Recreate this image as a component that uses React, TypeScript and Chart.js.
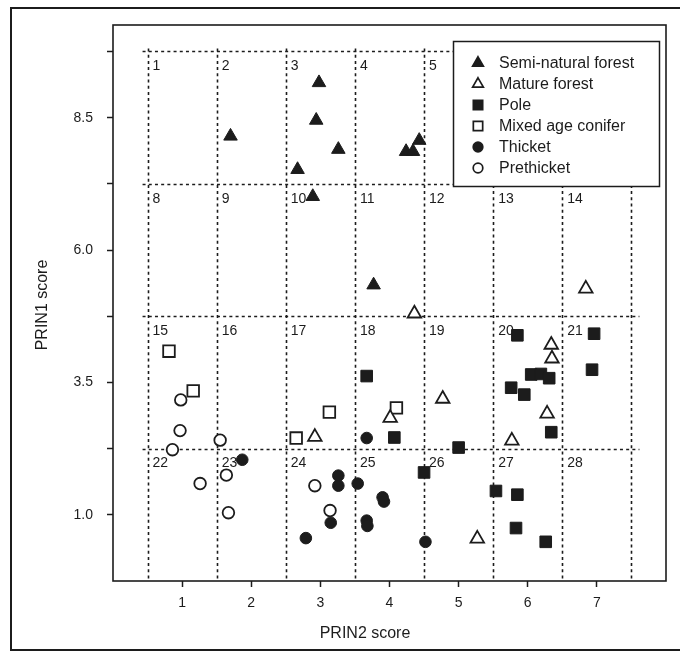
import React, { useEffect, useRef } from 'react';
import { Chart, registerables } from 'chart.js';

Chart.register(...registerables);

const FONT = '"Liberation Sans", Arial, Helvetica, sans-serif';
const INK = '#1c1c1c';

// ---- data (PRIN2 score = x, PRIN1 score = y) ----
const seriesNames = [
  'Semi-natural forest',
  'Mature forest',
  'Pole',
  'Mixed age conifer',
  'Thicket',
  'Prethicket',
];
const seriesShapes = ['triangle', 'triangle', 'rect', 'rect', 'circle', 'circle'];
const seriesFilled = [true, false, true, false, true, false];

const semiNaturalForest = [
  [1.7, 8.15], [2.98, 9.16], [2.94, 8.45], [3.26, 7.9], [2.67, 7.52],
  [2.89, 7.01], [4.24, 7.86], [4.34, 7.86], [4.43, 8.07], [3.77, 5.34],
];
const matureForest = [
  [4.36, 4.8], [4.77, 3.19], [4.01, 2.83], [2.92, 2.47], [6.84, 5.27],
  [6.34, 4.21], [6.35, 3.95], [6.28, 2.91], [5.77, 2.4], [5.27, 0.55],
];
const pole = [
  [3.67, 3.62], [4.07, 2.46], [5.0, 2.27], [5.76, 3.4], [5.85, 4.39],
  [6.05, 3.65], [6.19, 3.66], [6.31, 3.58], [5.95, 3.27], [6.34, 2.56],
  [6.96, 4.42], [6.93, 3.74], [4.5, 1.8], [5.54, 1.45], [5.85, 1.38],
  [5.83, 0.75], [6.26, 0.49],
];
const mixedAgeConifer = [
  [0.81, 4.09], [1.16, 3.34], [2.65, 2.45], [3.13, 2.94], [4.1, 3.02],
];
const thicket = [
  [3.67, 2.45], [1.87, 2.04], [3.26, 1.74], [3.26, 1.55], [3.15, 0.85],
  [2.79, 0.56], [3.54, 1.59], [3.9, 1.33], [3.92, 1.25], [3.67, 0.89],
  [3.68, 0.79], [4.52, 0.49],
];
const prethicket = [
  [0.98, 3.17], [0.97, 2.59], [1.55, 2.41], [0.86, 2.23], [1.26, 1.59],
  [1.64, 1.75], [1.67, 1.04], [2.92, 1.55], [3.14, 1.08],
];
const seriesData = [semiNaturalForest, matureForest, pole, mixedAgeConifer, thicket, prethicket];

const xTickValues = [1, 2, 3, 4, 5, 6, 7];
const yMajorTicks = [1.0, 3.5, 6.0, 8.5];
const yMinorTicks = [2.25, 4.75, 7.25, 9.75];
const columnEdges = [0.5, 1.5, 2.5, 3.5, 4.5, 5.5, 6.5, 7.5];
const rowEdges = [9.75, 7.25, 4.75, 2.25];
const cellsPerRow = 7;
const xTitle = 'PRIN2 score';
const yTitle = 'PRIN1 score';

const pointSizes: Record<string, number> = { triangle: 7.8, rect: 8.2, circle: 5.8 };
const legendSizes: Record<string, number> = { triangle: 6.2, rect: 6.6, circle: 4.8 };

function drawMarker(ctx: CanvasRenderingContext2D, kind: string, x: number, y: number, r: number, filled: boolean) {
  ctx.beginPath();
  if (kind === 'triangle') {
    ctx.moveTo(x, y - r);
    ctx.lineTo(x + r * 0.866, y + r / 2);
    ctx.lineTo(x - r * 0.866, y + r / 2);
    ctx.closePath();
  } else if (kind === 'rect') {
    const s = r * Math.SQRT1_2;
    ctx.rect(x - s, y - s, 2 * s, 2 * s);
  } else {
    ctx.arc(x, y, r, 0, Math.PI * 2);
  }
  ctx.fillStyle = filled ? INK : '#ffffff';
  ctx.fill();
  ctx.lineWidth = 1.7;
  ctx.strokeStyle = INK;
  ctx.stroke();
}

const cellPlugin = {
  id: 'cellGrid',
  beforeDatasetsDraw(chart: any) {
    const ctx: CanvasRenderingContext2D = chart.ctx;
    const xs = chart.scales.x;
    const ys = chart.scales.y;
    const area = chart.chartArea;
    ctx.save();
    ctx.strokeStyle = INK;
    ctx.lineWidth = 1.6;
    ctx.setLineDash([3, 3.2]);
    const xl = xs.getPixelForValue(columnEdges[0]) - 5;
    const xr = xs.getPixelForValue(columnEdges[columnEdges.length - 1]) + 8;
    rowEdges.forEach((v) => {
      const y = Math.round(ys.getPixelForValue(v)) + 0.5;
      ctx.beginPath();
      ctx.moveTo(xl, y);
      ctx.lineTo(xr, y);
      ctx.stroke();
    });
    const yt = ys.getPixelForValue(rowEdges[0]) - 3;
    columnEdges.forEach((v) => {
      const x = Math.round(xs.getPixelForValue(v)) + 0.5;
      ctx.beginPath();
      ctx.moveTo(x, yt);
      ctx.lineTo(x, area.bottom);
      ctx.stroke();
    });
    ctx.setLineDash([]);
    ctx.fillStyle = INK;
    ctx.font = `14px ${FONT}`;
    ctx.textAlign = 'left';
    ctx.textBaseline = 'middle';
    rowEdges.forEach((top, r) => {
      for (let c = 0; c < cellsPerRow; c++) {
        const n = r * cellsPerRow + c + 1;
        const x = xs.getPixelForValue(columnEdges[c]) + 5;
        const y = ys.getPixelForValue(top) + 15;
        ctx.fillText(String(n), x, y);
      }
    });
    ctx.restore();
  },
  afterDatasetsDraw(chart: any) {
    const ctx: CanvasRenderingContext2D = chart.ctx;
    const area = chart.chartArea;
    ctx.save();
    // legend box
    const lx = 453, ly = 41, lw = 206, lh = 145;
    ctx.fillStyle = '#ffffff';
    ctx.fillRect(lx, ly, lw, lh);
    ctx.strokeStyle = INK;
    ctx.lineWidth = 1.5;
    ctx.strokeRect(lx + 0.5, ly + 0.5, lw, lh);
    ctx.font = `16px ${FONT}`;
    ctx.textAlign = 'left';
    ctx.textBaseline = 'middle';
    seriesNames.forEach((name, i) => {
      const y = 63 + i * 21;
      drawMarker(ctx, seriesShapes[i], 478, y, legendSizes[seriesShapes[i]], seriesFilled[i]);
      ctx.fillStyle = INK;
      ctx.fillText(name, 499, y + 1);
    });
    // plot frame
    ctx.lineWidth = 1.6;
    ctx.strokeStyle = INK;
    ctx.strokeRect(area.left, area.top, area.right - area.left, area.bottom - area.top);
    // outer frame
    ctx.lineWidth = 2;
    ctx.strokeRect(11, 8, 720, 642);
    // axis titles
    ctx.fillStyle = INK;
    ctx.font = `16px ${FONT}`;
    ctx.textAlign = 'center';
    ctx.textBaseline = 'middle';
    ctx.fillText(xTitle, 365, 634);
    ctx.translate(43, 305);
    ctx.rotate(-Math.PI / 2);
    ctx.fillText(yTitle, 0, 0);
    ctx.restore();
  },
};

export default function App() {
  const ref = useRef<HTMLCanvasElement | null>(null);
  useEffect(() => {
    if (!ref.current) return;
    const chart = new Chart(ref.current, {
      type: 'scatter',
      data: {
        datasets: seriesData.map((pts, i) => ({
          label: seriesNames[i],
          data: pts.map(([x, y]) => ({ x, y })),
          pointStyle: seriesShapes[i] as any,
          pointRadius: pointSizes[seriesShapes[i]],
          pointHoverRadius: pointSizes[seriesShapes[i]],
          backgroundColor: seriesFilled[i] ? INK : '#ffffff',
          borderColor: INK,
          borderWidth: seriesFilled[i] ? 1 : 1.8,
        })),
      },
      options: {
        responsive: false,
        animation: false,
        events: [],
        layout: { padding: { left: 0, top: 25, right: 14, bottom: 0 } },
        plugins: {
          legend: { display: false },
          tooltip: { enabled: false },
          title: { display: false },
        },
        scales: {
          x: {
            type: 'linear',
            min: 0,
            max: 8,
            afterBuildTicks: (s: any) => {
              s.ticks = xTickValues.map((v) => ({ value: v }));
            },
            afterFit: (s: any) => {
              s.height = 76;
            },
            ticks: {
              font: { family: FONT, size: 14 },
              color: INK,
              padding: 8,
              maxRotation: 0,
              autoSkip: false,
              callback: (v: any) => String(v),
            },
            grid: { drawOnChartArea: false, drawTicks: true, tickLength: 6, tickColor: INK, tickWidth: 1.5 },
            border: { display: false },
          },
          y: {
            type: 'linear',
            min: -0.25,
            max: 10.25,
            afterBuildTicks: (s: any) => {
              s.ticks = [...yMajorTicks, ...yMinorTicks].sort((a, b) => a - b).map((v) => ({ value: v }));
            },
            afterFit: (s: any) => {
              s.width = 113;
            },
            ticks: {
              font: { family: FONT, size: 14 },
              color: INK,
              padding: 14,
              autoSkip: false,
              callback: (v: any) => (yMajorTicks.includes(Number(v)) ? Number(v).toFixed(1) : ''),
            },
            grid: { drawOnChartArea: false, drawTicks: true, tickLength: 6, tickColor: INK, tickWidth: 1.5 },
            border: { display: false },
          },
        },
      },
      plugins: [cellPlugin],
    });
    return () => chart.destroy();
  }, []);
  return (
    <div style={{ position: 'fixed', left: 0, top: 0, width: 680, height: 657, background: '#ffffff' }}>
      <canvas ref={ref} width={680} height={657} style={{ display: 'block' }} />
    </div>
  );
}
